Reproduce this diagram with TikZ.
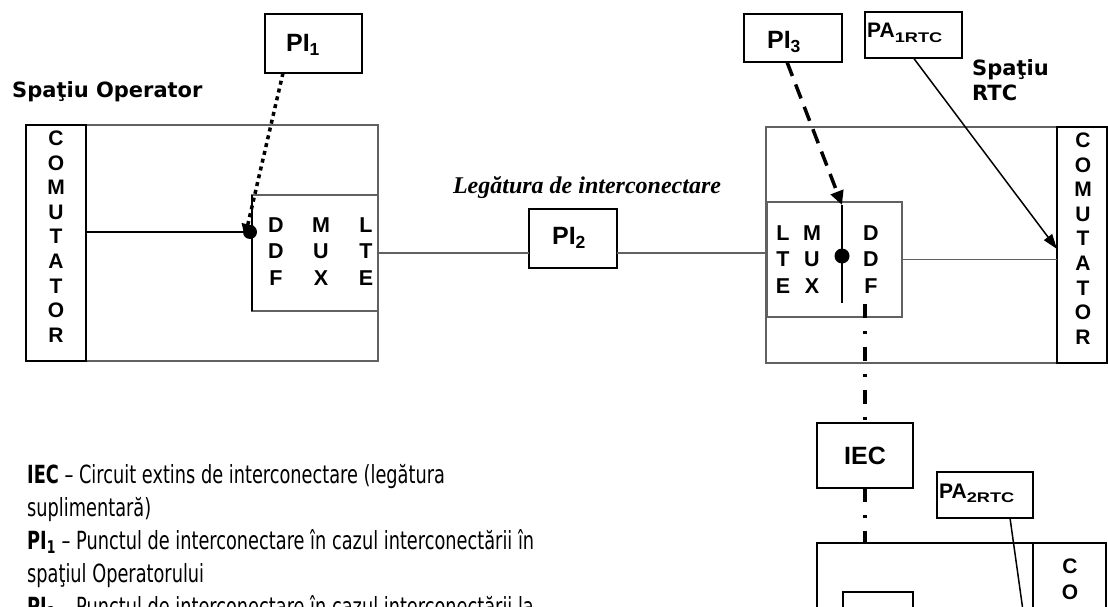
\documentclass[tikz,border=0pt]{standalone}
\usepackage{fontspec}
\setmainfont{Liberation Sans}
\newfontfamily\vfont{DejaVu Sans}
\newfontfamily\legfont[FakeStretch=0.71]{DejaVu Sans}
\newfontfamily\tnr{Liberation Serif}
\usetikzlibrary{arrows.meta,calc}
\definecolor{boxgray}{gray}{0.38}
\tikzset{
  frame/.style={draw=boxgray, line width=1.2pt, inner sep=0pt, outer sep=0pt, anchor=north west},
  blackframe/.style={draw=black, line width=1.4pt, inner sep=0pt, outer sep=0pt, anchor=north west},
  colbox/.style={draw=black, line width=1.3pt, inner sep=0pt, outer sep=0pt, anchor=north west},
  pibox/.style={draw=black, line width=1.8pt, inner sep=0pt, outer sep=0pt, anchor=north west},
  letters/.style={font=\fontsize{21.5}{26.5}\selectfont\bfseries, align=center, inner sep=0pt},
  vletters/.style={font=\fontsize{21}{24.6}\selectfont\bfseries, align=center, inner sep=0pt},
  pitxt/.style={font=\fontsize{25}{25}\selectfont\bfseries, inner sep=0pt},
  patxt/.style={font=\fontsize{21}{21}\selectfont\bfseries, inner sep=0pt, anchor=base west},
  spacelbl/.style={font=\vfont\fontsize{21}{25}\selectfont\bfseries, inner sep=0pt},
  legend/.style={font=\legfont\fontsize{25}{33}\selectfont, inner sep=0pt, align=left, anchor=north west},
  dot/.style={circle, fill=black, inner sep=0pt, minimum size=14pt},
  wire/.style={draw=black, line width=1.5pt},
  link/.style={draw=boxgray, line width=1.1pt},
  dotarrow/.style={draw=black, line width=3.5pt, dash pattern=on 4pt off 4pt, -{Triangle[length=13pt,width=12pt]}},
  dasharrow/.style={draw=black, line width=3.5pt, dash pattern=on 15pt off 9pt, -{Triangle[length=14pt,width=13pt]}},
  thinarrow/.style={draw=black, line width=1.5pt, -{Triangle[length=15pt,width=10pt]}},
  dashdot/.style={draw=black, line width=4pt, dash pattern=on 14pt off 13pt on 3pt off 13pt},
}
\newcommand{\subsc}[1]{\raisebox{-0.2em}{\scalebox{1.3}[1]{\fontsize{14}{14}\selectfont #1}}}
\begin{document}
\begin{tikzpicture}[x=1pt,y=-1pt]
\useasboundingbox (0,0) rectangle (1108,607);
\begin{scope}
\clip (0,0) rectangle (1108,607);
% ---------- left (operator) ----------
\node[spacelbl, anchor=base west] (lspace) at (12,98) {Spaţiu Operator};
\node[frame, minimum width=352pt, minimum height=236pt] (lop) at (26,125) {};
\node[colbox, minimum width=60pt, minimum height=236pt] (lcom) at (26,125) {};
\node[vletters] (lcomtxt) at (56,236.5) {C\\O\\M\\U\\T\\A\\T\\O\\R};
\node[frame, minimum width=126pt, minimum height=116pt] (lmux) at (252,195) {};
\draw[wire] (lmux.north west) -- (lmux.south west);
\node[letters] (lc1) at (276,251.5) {D\\D\\F};
\node[letters] (lc2) at (321,251.5) {M\\U\\X};
\node[letters] (lc3) at (366,251.5) {L\\T\\E};
\node[dot] (ldot) at (250,232) {};
\draw[wire] (lcom.east |- ldot) -- (ldot);
\node[pibox, minimum width=97pt, minimum height=59pt] (pi1) at (265,14) {};
\node[pitxt] (pi1txt) at (303,45) {PI\textsubscript{1}};
\draw[dotarrow] ([xshift=18pt]pi1.south west) -- (ldot.south west);
% ---------- link ----------
\node[font=\tnr\bfseries\itshape\fontsize{24}{24}\selectfont, inner sep=0pt, anchor=base] (linklbl) at (587,193) {Legătura de interconectare};
\node[pibox, minimum width=88pt, minimum height=59pt] (pi2) at (529,209) {};
\node[pitxt] (pi2txt) at (569,238) {PI\textsubscript{2}};
% ---------- right (RTC) ----------
\node[frame, minimum width=341pt, minimum height=236pt] (rop) at (766,127) {};
\node[colbox, minimum width=50pt, minimum height=236pt] (rcom) at (1057,127) {};
\node[vletters] (rcomtxt) at (1083,238.5) {C\\O\\M\\U\\T\\A\\T\\O\\R};
\node[frame, minimum width=135pt, minimum height=115pt] (rmux) at (767,202) {};
\node[letters] (rc1) at (783,259.5) {L\\T\\E};
\node[letters] (rc2) at (812,259.5) {M\\U\\X};
\node[letters] (rc3) at (871,259.5) {D\\D\\F};
\coordinate (rvtop) at (842,205);
\coordinate (rvbot) at (842,303);
\draw[wire] (rvtop) -- (rvbot);
\node[dot, minimum size=15pt] (rdot) at (842,256) {};
\draw[link] (lmux.east) -- (lmux.east -| pi2.west);
\draw[link] (pi2.east |- lmux.east) -- (lmux.east -| rmux.west);
\draw[link] (rmux.east) -- (rmux.east -| rcom.west);
\node[pibox, minimum width=98pt, minimum height=48pt] (pi3) at (744,14) {};
\node[pitxt] (pi3txt) at (784,42) {PI\textsubscript{3}};
\draw[dasharrow] ([xshift=43pt]pi3.south west) -- (rvtop);
\node[pibox, minimum width=97pt, minimum height=46pt] (pa1) at (865,12) {};
\node[patxt] (pa1txt) at (867,38) {PA\subsc{1RTC}};
\draw[thinarrow] (pa1.south) -- ($(rcom.north west)!0.517!(rcom.south west)$);
\node[spacelbl, anchor=north west, align=left] (rspace) at (972,59) {Spaţiu\\RTC};
% ---------- IEC ----------
\coordinate (ddtop) at (865,304);
\node[pibox, minimum width=96pt, minimum height=65pt, font=\fontsize{25}{25}\selectfont\bfseries] (iec) at (817,423) {IEC};
\node[blackframe, minimum width=289pt, minimum height=100pt] (bop) at (817,543) {};
\node[colbox, minimum width=73pt, minimum height=100pt] (bcom) at (1033,543) {};
\node[font=\fontsize{21}{26}\selectfont\bfseries, align=center, inner sep=0pt] (bcomtxt) at (1070,579) {C\\O};
\node[blackframe, minimum width=70pt, minimum height=60pt] (bmux) at (843,592) {};
\draw[dashdot] (ddtop) -- (iec.north);
\draw[dashdot] (iec.south) -- (iec.south |- bop.north);
\node[pibox, minimum width=96pt, minimum height=46pt] (pa2) at (937,472) {};
\node[patxt] (pa2txt) at (939,498) {PA\subsc{2RTC}};
\coordinate (pa2end) at (1025,625);
\draw[wire] ([xshift=25pt]pa2.south) -- (pa2end);
% ---------- legend ----------
\node[legend] (legend) at (27,464) {\textbf{IEC} – Circuit extins de interconectare (legătura\\
suplimentară)\\
\textbf{PI\textsubscript{1}} – Punctul de interconectare în cazul interconectării în\\
spaţiul Operatorului\\
\textbf{PI\textsubscript{2}} – Punctul de interconectare în cazul interconectării la};
\end{scope}
\end{tikzpicture}
\end{document}
